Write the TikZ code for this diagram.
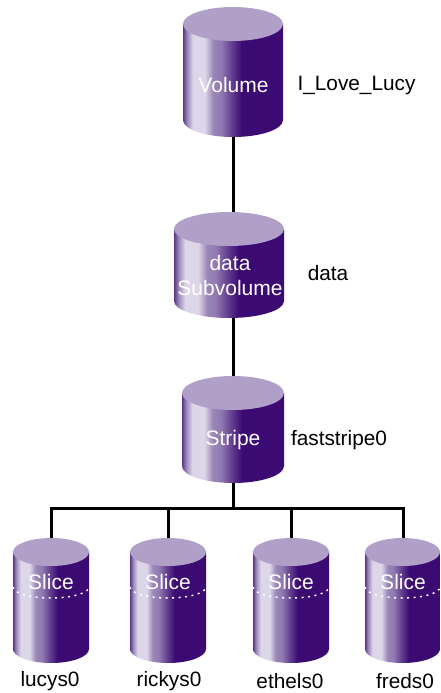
\documentclass[tikz,border=0pt]{standalone}
\usepackage{fontspec}
\setmainfont{Liberation Sans}
\definecolor{cyldark}{HTML}{3B0A72}
\definecolor{cylmid}{HTML}{9A86B8}
\definecolor{cyllight}{HTML}{DDD5E8}
\definecolor{cyltop}{HTML}{B0A0C8}
\pgfdeclarehorizontalshading{cylshade}{100bp}{
 color(0bp)=(cyldark);
 color(25bp)=(cylmid!35!cyldark);
 color(27bp)=(cylmid);
 color(30bp)=(cyllight);
 color(36bp)=(cyllight);
 color(40bp)=(cylmid);
 color(44bp)=(cylmid!90!cyldark);
 color(49bp)=(cylmid!45!cyldark);
 color(54.5bp)=(cyldark);
 color(100bp)=(cyldark)}
\tikzset{
 wire/.style={line width=3pt,black},
 cyltext/.style={white,font=\fontsize{21}{25}\selectfont,align=center,inner sep=0pt},
 lab/.style={black,font=\fontsize{20.8}{25}\selectfont,inner sep=0pt},
 box/.style={inner sep=0pt,outer sep=0pt}
}
\newcommand{\cylbody}[6]{%
 \pgfmathsetmacro{\cxx}{(#2+#3)/2}\pgfmathsetmacro{\rxx}{(#3-#2)/2}%
 \path[shade,shading=cylshade] (#2,#4+#6) -- (#2,#5-#6) arc[start angle=180,end angle=360,x radius=\rxx,y radius=-#6] -- (#3,#4+#6) -- cycle;
 \fill[cyltop] (\cxx,#4+#6) ellipse[x radius=\rxx,y radius=#6];
 \node[box,minimum width=#3-#2,minimum height=#5-#4] (#1) at (\cxx,{(#4+#5)/2}) {};
}
\newcommand{\slicearc}[3]{%
 \draw[white,line width=1.5pt,dash pattern=on 2pt off 4.5pt] (#1,587) arc[start angle=180,end angle=360,x radius={(#2-#1)/2},y radius=-#3];
}
\begin{document}
\begin{tikzpicture}[x=1pt,y=-1pt]
\useasboundingbox (0,0) rectangle (440,693);
\coordinate (bus) at (233,508);
\coordinate (b1) at (51,508);
\coordinate (b2) at (168,508);
\coordinate (b3) at (291,508);
\coordinate (b4) at (403,508);
\cylbody{vol}{183}{283}{7}{137}{17}
\cylbody{sub}{174}{284}{212}{318}{17}
\cylbody{str}{182}{284}{376}{483}{17}
\cylbody{s1}{13}{89}{538}{663}{14}
\cylbody{s2}{130}{206}{538}{663}{14}
\cylbody{s3}{253}{329}{538}{663}{14}
\cylbody{s4}{365}{440}{538}{663}{14}
\draw[wire] (vol.south) -- (vol.south |- sub.north);
\draw[wire] (str.north |- sub.south) -- (str.north);
\draw[wire] (str.south) -- (bus);
\draw[wire] (b1 |- s1.north) -- (b1) -- (b4) -- (b4 |- s4.north);
\draw[wire] (b2) -- (b2 |- s2.north);
\draw[wire] (b3) -- (b3 |- s3.north);
\slicearc{13}{89}{11}
\slicearc{130}{206}{11}
\slicearc{253}{329}{11}
\slicearc{365}{440}{11}
\node[cyltext] (tvol) at (233.5,85) {Volume};
\node[cyltext] (tsub1) at (230,263) {data};
\node[cyltext] (tsub2) at (230,288) {Subvolume};
\node[cyltext] (tstr) at (233,440) {Stripe};
\node[cyltext] (ts1) at (51,582) {Slice};
\node[cyltext] (ts2) at (168,582) {Slice};
\node[cyltext] (ts3) at (291,582) {Slice};
\node[cyltext] (ts4) at (403,582) {Slice};
\node[lab] (l0) at (356.5,86) {I\_Love\_Lucy};
\node[lab] (l1) at (328,273) {data};
\node[lab] (l2) at (339,440) {faststripe0};
\node[lab] (l3) at (50,681) {lucys0};
\node[lab] (l4) at (169,681) {rickys0};
\node[lab] (l5) at (290,681) {ethels0};
\node[lab] (l6) at (405,681) {freds0};
\end{tikzpicture}
\end{document}
